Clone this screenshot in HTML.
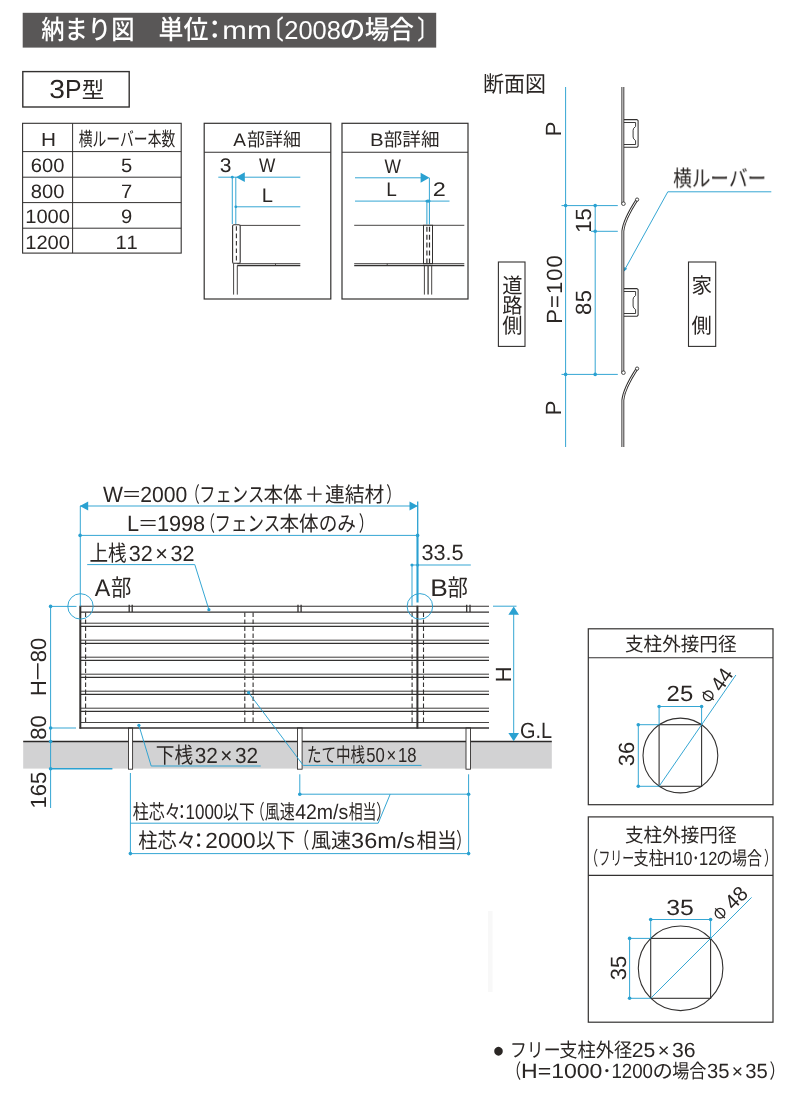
<!DOCTYPE html>
<html lang="ja"><head><meta charset="utf-8"><title>納まり図</title>
<style>
html,body{margin:0;padding:0;background:#fff}
body{width:793px;height:1101px;overflow:hidden}
svg{display:block;will-change:transform;transform:translateZ(0)}
text{font-family:"Liberation Sans","Noto Sans CJK JP",sans-serif;font-kerning:none;white-space:pre;fill:inherit;text-rendering:geometricPrecision}
</style></head><body>
<svg width="793" height="1101" viewBox="0 0 793 1101" fill="#2a2624">
<rect x="22.7" y="12.8" width="413.5" height="34.8" fill="#595757"/>
<g transform="translate(41.8 39.3)" fill="#fff" aria-label="納まり図"><text transform="translate(-0.49 0) scale(0.8785 1)" font-size="26.5" font-weight="500">納まり図</text></g>
<g transform="translate(159.8 39.3)" fill="#fff" aria-label="単位"><text transform="translate(-1.27 0) scale(0.9423 1)" font-size="26.5" font-weight="500">単位</text></g>
<g transform="translate(224.3 39.3)" fill="#fff" aria-label="mm"><text transform="translate(-1.96 0) scale(1.142 1)" font-size="25.8">mm</text></g>
<g transform="translate(277.4 39.3)" fill="#fff" aria-label="〔"><text transform="translate(-14.99 0) scale(0.8034 1)" font-size="26.5" font-weight="500">〔</text></g>
<g transform="translate(285.5 39.3)" fill="#fff" aria-label="2008"><text transform="translate(-1.28 0) scale(0.988 1)" font-size="25.8">2008</text></g>
<g transform="translate(341.8 39.3)" fill="#fff" aria-label="の"><text transform="translate(-1.96 0) scale(0.9626 1)" font-size="26.5" font-weight="500">の</text></g>
<g transform="translate(365.4 39.3)" fill="#fff" aria-label="場合"><text transform="translate(-0.71 0) scale(0.9302 1)" font-size="26.5" font-weight="500">場合</text></g>
<g transform="translate(417.9 39.3)" fill="#fff" aria-label="〕"><text transform="translate(-0.68 0) scale(0.7747 1)" font-size="26.5" font-weight="500">〕</text></g>
<g transform="translate(214.8 39.3)" fill="#fff" aria-label="："><text transform="translate(-13.25 0)" font-size="26.5" font-weight="500">：</text></g>
<rect x="22.8" y="71.6" width="106.4" height="35.4" fill="none" stroke="#333130" stroke-width="1.4"/>
<g transform="translate(50.4 98.1)" aria-label="3"><text transform="translate(-1.08 0) scale(1.087 1)" font-size="26">3</text></g>
<g transform="translate(67 98.1)" aria-label="P"><text transform="translate(-2.03 0) scale(0.954 1)" font-size="26">P</text></g>
<g transform="translate(82.9 98)" aria-label="型"><text transform="translate(-1.05 0) scale(0.9925 1)" font-size="22.6">型</text></g>
<rect x="22.6" y="123.3" width="158.6" height="129.8" fill="none" stroke="#333130" stroke-width="1.1"/>
<line x1="72.6" y1="123.3" x2="72.6" y2="253.1" stroke="#333130" stroke-width="1"/>
<line x1="22.6" y1="151.6" x2="181.2" y2="151.6" stroke="#333130" stroke-width="1"/>
<line x1="22.6" y1="177.2" x2="181.2" y2="177.2" stroke="#333130" stroke-width="1"/>
<line x1="22.6" y1="202.6" x2="181.2" y2="202.6" stroke="#333130" stroke-width="1"/>
<line x1="22.6" y1="228.2" x2="181.2" y2="228.2" stroke="#333130" stroke-width="1"/>
<g transform="translate(42.6 146)" aria-label="H"><text transform="translate(-1.7 0) scale(1.105 1)" font-size="18.8">H</text></g>
<g transform="translate(79 146.4)" aria-label="横ルーバー本数"><text transform="translate(-0.37 0) scale(0.7082 1)" font-size="19.5">横ルーバー本数</text></g>
<g transform="translate(47.6 172.2)" aria-label="600"><text transform="translate(-16.83 0) scale(1.040 1)" font-size="19.4">600</text></g>
<g transform="translate(126.6 172.2)" aria-label="5"><text transform="translate(-5.61 0) scale(1.040 1)" font-size="19.4">5</text></g>
<g transform="translate(47.6 197.7)" aria-label="800"><text transform="translate(-16.83 0) scale(1.040 1)" font-size="19.4">800</text></g>
<g transform="translate(126.6 197.7)" aria-label="7"><text transform="translate(-5.61 0) scale(1.040 1)" font-size="19.4">7</text></g>
<g transform="translate(47.6 223.2)" aria-label="1000"><text transform="translate(-22.44 0) scale(1.040 1)" font-size="19.4">1000</text></g>
<g transform="translate(126.6 223.2)" aria-label="9"><text transform="translate(-5.61 0) scale(1.040 1)" font-size="19.4">9</text></g>
<g transform="translate(47.6 248.5)" aria-label="1200"><text transform="translate(-22.44 0) scale(1.040 1)" font-size="19.4">1200</text></g>
<g transform="translate(126.6 248.5)" aria-label="11"><text transform="translate(-11.22 0) scale(1.040 1)" font-size="19.4">11</text></g>
<rect x="204.2" y="123.3" width="126.6" height="175.7" fill="none" stroke="#333130" stroke-width="1.2"/>
<line x1="204.2" y1="152.3" x2="330.8" y2="152.3" stroke="#333130" stroke-width="1.1"/>
<g transform="translate(233.4 145.5)" aria-label="A"><text transform="translate(-0.04 0) scale(1.056 1)" font-size="18">A</text></g>
<g transform="translate(247.7 145.5)" aria-label="部詳細"><text transform="translate(-0.75 0) scale(0.9661 1)" font-size="18.6">部詳細</text></g>
<line x1="218.3" y1="177.2" x2="300.3" y2="177.2" stroke="#2aa1d1" stroke-width="0.95"/>
<line x1="235.8" y1="206.8" x2="300.3" y2="206.8" stroke="#2aa1d1" stroke-width="0.95"/>
<line x1="232.3" y1="177.2" x2="232.3" y2="224" stroke="#2aa1d1" stroke-width="0.95"/>
<line x1="235.8" y1="177.2" x2="235.8" y2="224" stroke="#2aa1d1" stroke-width="0.95"/>
<circle cx="232.3" cy="177.2" r="1.4" fill="#2aa1d1"/>
<circle cx="235.8" cy="206.8" r="1.4" fill="#2aa1d1"/>
<polygon points="236,177.2 244.8,172.3 244.8,182.1" fill="#2aa1d1"/>
<g transform="translate(220.5 172)" aria-label="3"><text transform="translate(-0.8 0) scale(1.065 1)" font-size="19.8">3</text></g>
<g transform="translate(259.2 172)" aria-label="W"><text transform="translate(-0.08 0) scale(0.874 1)" font-size="19.8">W</text></g>
<g transform="translate(263.3 202)" aria-label="L"><text transform="translate(-1.66 0) scale(1.019 1)" font-size="19.8">L</text></g>
<line x1="240" y1="225.4" x2="300.3" y2="225.4" stroke="#333130" stroke-width="0.9"/>
<rect x="232.6" y="224.7" width="7.6" height="38.6" fill="#fff" stroke="#333130" stroke-width="1.1" rx="1.4"/>
<line x1="236.4" y1="226.2" x2="236.4" y2="262.5" stroke="#333130" stroke-width="1.1" stroke-dasharray="4.6 2.8"/>
<line x1="237.2" y1="263.7" x2="300.3" y2="263.7" stroke="#333130" stroke-width="1.1"/>
<line x1="237.2" y1="265.6" x2="300.3" y2="265.6" stroke="#333130" stroke-width="1.1"/>
<line x1="275.5" y1="263.7" x2="275.5" y2="265.7" stroke="#333130" stroke-width="0.8"/>
<line x1="233.6" y1="263.5" x2="233.6" y2="294.6" stroke="#333130" stroke-width="0.9"/>
<line x1="237.3" y1="265.7" x2="237.3" y2="294.6" stroke="#333130" stroke-width="0.9"/>
<rect x="342" y="123.3" width="126" height="175.7" fill="none" stroke="#333130" stroke-width="1.2"/>
<line x1="342" y1="152.3" x2="468" y2="152.3" stroke="#333130" stroke-width="1.1"/>
<g transform="translate(371.6 145.5)" aria-label="B"><text transform="translate(-1.68 0) scale(1.138 1)" font-size="18">B</text></g>
<g transform="translate(384.6 145.5)" aria-label="部詳細"><text transform="translate(-0.78 0) scale(0.9978 1)" font-size="18.6">部詳細</text></g>
<line x1="355" y1="177.8" x2="421" y2="177.8" stroke="#2aa1d1" stroke-width="0.95"/>
<line x1="355" y1="201.1" x2="449.5" y2="201.1" stroke="#2aa1d1" stroke-width="0.95"/>
<line x1="429.4" y1="177.8" x2="429.4" y2="201.1" stroke="#2aa1d1" stroke-width="0.95"/>
<line x1="426.9" y1="201.1" x2="426.9" y2="224.5" stroke="#2aa1d1" stroke-width="1"/>
<line x1="429.4" y1="201.1" x2="429.4" y2="224.5" stroke="#2aa1d1" stroke-width="1"/>
<ellipse cx="428" cy="201.1" rx="2.7" ry="1.7" fill="#2aa1d1"/>
<polygon points="429.5,177.8 420.6,182.8 420.6,172.8" fill="#2aa1d1"/>
<g transform="translate(384.7 173)" aria-label="W"><text transform="translate(-0.08 0) scale(0.879 1)" font-size="19.8">W</text></g>
<g transform="translate(387.8 196)" aria-label="L"><text transform="translate(-1.56 0) scale(0.962 1)" font-size="19.8">L</text></g>
<g transform="translate(434 195.8)" aria-label="2"><text transform="translate(-1.18 0) scale(1.186 1)" font-size="19.8">2</text></g>
<line x1="354.2" y1="225.3" x2="464.3" y2="225.3" stroke="#333130" stroke-width="0.9"/>
<rect x="423.5" y="225.3" width="9" height="38.4" fill="#fff" stroke="#333130" stroke-width="1"/>
<line x1="426.9" y1="226.8" x2="426.9" y2="263" stroke="#333130" stroke-width="1.2" stroke-dasharray="5 2.9"/>
<line x1="429.5" y1="226.8" x2="429.5" y2="263" stroke="#333130" stroke-width="1.2" stroke-dasharray="5 2.9"/>
<line x1="354.2" y1="263.7" x2="464.3" y2="263.7" stroke="#333130" stroke-width="1.1"/>
<line x1="354.2" y1="265.6" x2="464.3" y2="265.6" stroke="#333130" stroke-width="1.1"/>
<line x1="387.2" y1="263.7" x2="387.2" y2="265.7" stroke="#333130" stroke-width="0.8"/>
<line x1="424.4" y1="265.6" x2="424.4" y2="294.6" stroke="#333130" stroke-width="0.9"/>
<line x1="428.1" y1="265.6" x2="428.1" y2="294.6" stroke="#4a4847" stroke-width="1.4"/>
<line x1="431.7" y1="265.6" x2="431.7" y2="294.6" stroke="#333130" stroke-width="0.9"/>
<g transform="translate(484.7 91.6)" aria-label="断面図"><text transform="translate(-1.7 0) scale(0.9375 1)" font-size="22.4">断面図</text></g>
<line x1="565.6" y1="87" x2="565.6" y2="447" stroke="#2aa1d1" stroke-width="0.95"/>
<line x1="561.5" y1="205.6" x2="617.8" y2="205.6" stroke="#2aa1d1" stroke-width="0.95"/>
<line x1="591" y1="231.3" x2="617.8" y2="231.3" stroke="#2aa1d1" stroke-width="0.95"/>
<line x1="561.5" y1="374.4" x2="617.8" y2="374.4" stroke="#2aa1d1" stroke-width="0.95"/>
<line x1="595.2" y1="205.6" x2="595.2" y2="374.4" stroke="#2aa1d1" stroke-width="0.95"/>
<circle cx="565.6" cy="205.6" r="1.8" fill="#2aa1d1"/>
<circle cx="595.2" cy="205.6" r="1.8" fill="#2aa1d1"/>
<circle cx="595.2" cy="231.3" r="1.8" fill="#2aa1d1"/>
<circle cx="565.6" cy="374.4" r="1.8" fill="#2aa1d1"/>
<circle cx="595.2" cy="374.4" r="1.8" fill="#2aa1d1"/>
<path d="M771.3,191.8 H667.8 L624,271" fill="none" stroke="#2aa1d1" stroke-width="0.95"/>
<polygon points="623.6,271.8 624.39,267.09 627.19,268.64" fill="#2aa1d1"/>
<g transform="translate(673.6 186.3)" aria-label="横ルーバー"><text transform="translate(-0.5 0) scale(0.8313 1)" font-size="22.4">横ルーバー</text></g>
<g transform="translate(561 129) rotate(-90)" aria-label="P"><text x="-7.34" y="0" font-size="22">P</text></g>
<g transform="translate(590.6 220.5) rotate(-90)" aria-label="15"><text x="-12.24" y="0" font-size="22">15</text></g>
<g transform="translate(561.6 289.5) rotate(-90)" aria-label="P=100"><text x="-34.31" y="0" font-size="22" letter-spacing="1.1">P=100</text></g>
<g transform="translate(591 302.6) rotate(-90)" aria-label="85"><text x="-12.49" y="0" font-size="22" letter-spacing="0.5">85</text></g>
<g transform="translate(561 407.9) rotate(-90)" aria-label="P"><text x="-7.34" y="0" font-size="22">P</text></g>
<clipPath id="secclip"><rect x="600" y="87" width="60" height="360"/></clipPath>
<g clip-path="url(#secclip)">
<path d="M637.0,30.7 Q624.05,50.5 622.85,62 V203.5" fill="none" stroke="#333130" stroke-width="2.9" stroke-linecap="round"/>
<path d="M637.0,30.7 Q624.05,50.5 622.85,62 V203.5" fill="none" stroke="#fff" stroke-width="0.95" stroke-linecap="round"/>
<circle cx="637.1" cy="30.6" r="1.65" fill="#fff" stroke="#333130" stroke-width="0.85"/>
<circle cx="623.45" cy="203.7" r="1.8" fill="#fff" stroke="#333130" stroke-width="0.85"/>
<path d="M623.95,119.6 H637.0 L638.1,120.7 V146.2 L637.0,147.3 H623.95" fill="none" stroke="#333130" stroke-width="1.05" stroke-linejoin="round"/>
<path d="M623.95,122.5 H635.6 V126.5 Q633.0,128.2 633.1,130.2 V137 Q633.0,139 635.6,140.6 V144.5 H623.95" fill="none" stroke="#333130" stroke-width="0.95" stroke-linejoin="round"/>
<path d="M637.0,199.7 Q624.05,219.5 622.85,231 V372.5" fill="none" stroke="#333130" stroke-width="2.9" stroke-linecap="round"/>
<path d="M637.0,199.7 Q624.05,219.5 622.85,231 V372.5" fill="none" stroke="#fff" stroke-width="0.95" stroke-linecap="round"/>
<circle cx="637.1" cy="199.6" r="1.65" fill="#fff" stroke="#333130" stroke-width="0.85"/>
<circle cx="623.45" cy="372.7" r="1.8" fill="#fff" stroke="#333130" stroke-width="0.85"/>
<path d="M623.95,288.6 H637.0 L638.1,289.7 V315.2 L637.0,316.3 H623.95" fill="none" stroke="#333130" stroke-width="1.05" stroke-linejoin="round"/>
<path d="M623.95,291.5 H635.6 V295.5 Q633.0,297.2 633.1,299.2 V306 Q633.0,308 635.6,309.6 V313.5 H623.95" fill="none" stroke="#333130" stroke-width="0.95" stroke-linejoin="round"/>
<path d="M637.0,368.7 Q624.05,388.5 622.85,400 V541.5" fill="none" stroke="#333130" stroke-width="2.9" stroke-linecap="round"/>
<path d="M637.0,368.7 Q624.05,388.5 622.85,400 V541.5" fill="none" stroke="#fff" stroke-width="0.95" stroke-linecap="round"/>
<circle cx="637.1" cy="368.6" r="1.65" fill="#fff" stroke="#333130" stroke-width="0.85"/>
<circle cx="623.45" cy="541.7" r="1.8" fill="#fff" stroke="#333130" stroke-width="0.85"/>
<path d="M623.95,457.6 H637.0 L638.1,458.7 V484.2 L637.0,485.3 H623.95" fill="none" stroke="#333130" stroke-width="1.05" stroke-linejoin="round"/>
<path d="M623.95,460.5 H635.6 V464.5 Q633.0,466.2 633.1,468.2 V475 Q633.0,477 635.6,478.6 V482.5 H623.95" fill="none" stroke="#333130" stroke-width="0.95" stroke-linejoin="round"/>
</g>
<rect x="498.4" y="262" width="26.6" height="84.4" fill="none" stroke="#333130" stroke-width="1.1"/>
<rect x="688.5" y="262" width="27.2" height="84.4" fill="none" stroke="#333130" stroke-width="1.1"/>
<g transform="translate(512.4 292.7)" aria-label="道"><text transform="translate(-10.14 0) scale(0.9699 1)" font-size="20.9">道</text></g>
<g transform="translate(512.4 312.5)" aria-label="路"><text transform="translate(-10.14 0) scale(0.9699 1)" font-size="20.9">路</text></g>
<g transform="translate(512.4 332.5)" aria-label="側"><text transform="translate(-10.14 0) scale(0.9699 1)" font-size="20.9">側</text></g>
<g transform="translate(701.8 293)" aria-label="家"><text transform="translate(-10.28 0) scale(0.9698 1)" font-size="21.2">家</text></g>
<g transform="translate(701.6 332.5)" aria-label="側"><text transform="translate(-10.14 0) scale(0.9699 1)" font-size="20.9">側</text></g>
<rect x="23.2" y="741.5" width="528.6" height="27.1" fill="#d2d2d3"/>
<line x1="23.2" y1="741.5" x2="551.8" y2="741.5" stroke="#2b2928" stroke-width="1.4"/>
<rect x="128.5" y="727.9" width="4.1" height="41.3" fill="#fff" stroke="#333130" stroke-width="0.9"/>
<rect x="297.5" y="727.9" width="4.6" height="41.3" fill="#fff" stroke="#333130" stroke-width="0.9"/>
<rect x="466" y="727.9" width="4.5" height="41.3" fill="#fff" stroke="#333130" stroke-width="0.9"/>
<line x1="80.3" y1="606.2" x2="489" y2="606.2" stroke="#333130" stroke-width="1.1"/>
<line x1="80.3" y1="612.1" x2="489" y2="612.1" stroke="#333130" stroke-width="1.1"/>
<line x1="80.3" y1="623.2" x2="489" y2="623.2" stroke="#333130" stroke-width="0.95"/>
<line x1="80.3" y1="626.3" x2="489" y2="626.3" stroke="#333130" stroke-width="1.3"/>
<line x1="80.3" y1="640.2" x2="489" y2="640.2" stroke="#333130" stroke-width="0.95"/>
<line x1="80.3" y1="643.3" x2="489" y2="643.3" stroke="#333130" stroke-width="1.3"/>
<line x1="80.3" y1="657.2" x2="489" y2="657.2" stroke="#333130" stroke-width="0.95"/>
<line x1="80.3" y1="660.3" x2="489" y2="660.3" stroke="#333130" stroke-width="1.3"/>
<line x1="80.3" y1="674.2" x2="489" y2="674.2" stroke="#333130" stroke-width="0.95"/>
<line x1="80.3" y1="677.3" x2="489" y2="677.3" stroke="#333130" stroke-width="1.3"/>
<line x1="80.3" y1="691.2" x2="489" y2="691.2" stroke="#333130" stroke-width="0.95"/>
<line x1="80.3" y1="694.3" x2="489" y2="694.3" stroke="#333130" stroke-width="1.3"/>
<line x1="80.3" y1="708.2" x2="489" y2="708.2" stroke="#333130" stroke-width="0.95"/>
<line x1="80.3" y1="711.3" x2="489" y2="711.3" stroke="#333130" stroke-width="1.3"/>
<line x1="80.3" y1="722.5" x2="489" y2="722.5" stroke="#333130" stroke-width="0.9"/>
<line x1="79.4" y1="727.9" x2="489" y2="727.9" stroke="#333130" stroke-width="1.5"/>
<line x1="80.3" y1="605.7" x2="80.3" y2="728.6" stroke="#333130" stroke-width="2"/>
<line x1="417.4" y1="605.7" x2="417.4" y2="728.6" stroke="#333130" stroke-width="2"/>
<line x1="85.6" y1="612.5" x2="85.6" y2="722.5" stroke="#333130" stroke-width="1.1" stroke-dasharray="4.4 2.6"/>
<line x1="244.8" y1="612.5" x2="244.8" y2="722.5" stroke="#333130" stroke-width="1.1" stroke-dasharray="4.4 2.6"/>
<line x1="253.1" y1="612.5" x2="253.1" y2="722.5" stroke="#333130" stroke-width="1.1" stroke-dasharray="4.4 2.6"/>
<line x1="412.1" y1="612.5" x2="412.1" y2="722.5" stroke="#333130" stroke-width="1.1" stroke-dasharray="4.4 2.6"/>
<line x1="423.5" y1="612.5" x2="423.5" y2="722.5" stroke="#333130" stroke-width="1.1" stroke-dasharray="4.4 2.6"/>
<line x1="129.2" y1="604.8" x2="129.2" y2="612.1" stroke="#333130" stroke-width="1.3"/>
<line x1="132.2" y1="604.8" x2="132.2" y2="612.1" stroke="#333130" stroke-width="1.3"/>
<line x1="298" y1="604.8" x2="298" y2="612.1" stroke="#333130" stroke-width="1.3"/>
<line x1="301.1" y1="604.8" x2="301.1" y2="612.1" stroke="#333130" stroke-width="1.3"/>
<line x1="466.7" y1="604.8" x2="466.7" y2="612.1" stroke="#333130" stroke-width="1.3"/>
<line x1="470" y1="604.8" x2="470" y2="612.1" stroke="#333130" stroke-width="1.3"/>
<line x1="80.1" y1="506" x2="417.6" y2="506" stroke="#2aa1d1" stroke-width="0.95"/>
<line x1="80.1" y1="535.4" x2="417.6" y2="535.4" stroke="#2aa1d1" stroke-width="0.95"/>
<polygon points="79.9,506 88.2,501.4 88.2,510.6" fill="#2aa1d1"/>
<polygon points="417.8,506 409.5,510.6 409.5,501.4" fill="#2aa1d1"/>
<line x1="80.3" y1="506" x2="80.3" y2="606.4" stroke="#2aa1d1" stroke-width="0.95"/>
<line x1="417.7" y1="501.5" x2="417.7" y2="535.4" stroke="#2aa1d1" stroke-width="1.3"/>
<line x1="417.5" y1="535.4" x2="417.5" y2="602.5" stroke="#2aa1d1" stroke-width="2.1"/>
<circle cx="80.1" cy="535.4" r="1.8" fill="#2aa1d1"/>
<circle cx="417.6" cy="535.4" r="1.8" fill="#2aa1d1"/>
<line x1="410.6" y1="565" x2="470.8" y2="565" stroke="#2aa1d1" stroke-width="0.95"/>
<line x1="412" y1="565" x2="412" y2="606" stroke="#2aa1d1" stroke-width="0.95"/>
<circle cx="412" cy="565" r="1.5" fill="#2aa1d1"/>
<circle cx="417.6" cy="565" r="1.5" fill="#2aa1d1"/>
<circle cx="80.5" cy="606.4" r="12.7" fill="none" stroke="#2aa1d1" stroke-width="0.95"/>
<circle cx="419.9" cy="606.4" r="12.8" fill="none" stroke="#2aa1d1" stroke-width="0.95"/>
<g transform="translate(103 501.5)" aria-label="W＝2000"><text transform="translate(-0.09 0) scale(0.961 1)" font-size="22">W</text><text transform="translate(18.44 0) scale(0.961 1)" font-size="21">＝</text><text transform="translate(37.21 0) scale(0.961 1)" font-size="22">2000</text></g>
<g transform="translate(195.3 501.5)" aria-label="（"><text transform="translate(-9.66 0) scale(0.6619 1)" font-size="21">（</text></g>
<g transform="translate(201.6 501.5)" aria-label="フェンス"><text transform="translate(-2.36 0) scale(0.7752 1)" font-size="21">フェンス</text></g>
<g transform="translate(264.1 501.5)" aria-label="本体"><text transform="translate(-0.61 0) scale(0.9319 1)" font-size="21">本体</text></g>
<g transform="translate(307.1 501.5)" aria-label="＋"><text transform="translate(-2.72 0) scale(0.9443 1)" font-size="21">＋</text></g>
<g transform="translate(325.7 501.5)" aria-label="連結材"><text transform="translate(-0.71 0) scale(0.94 1)" font-size="21">連結材</text></g>
<g transform="translate(386.9 501.5)" aria-label="）"><text transform="translate(-0.67 0) scale(0.6986 1)" font-size="21">）</text></g>
<g transform="translate(128.8 530.5)" aria-label="L＝1998"><text transform="translate(-1.78 0) scale(0.986 1)" font-size="22">L</text><text transform="translate(8.83 0) scale(0.9857 1)" font-size="21">＝</text><text transform="translate(28.09 0) scale(0.986 1)" font-size="22">1998</text></g>
<g transform="translate(210.6 530.5)" aria-label="（"><text transform="translate(-9.66 0) scale(0.6619 1)" font-size="21">（</text></g>
<g transform="translate(216.9 530.5)" aria-label="フェンス"><text transform="translate(-2.38 0) scale(0.7829 1)" font-size="21">フェンス</text></g>
<g transform="translate(280 530.5)" aria-label="本体"><text transform="translate(-0.61 0) scale(0.9319 1)" font-size="21">本体</text></g>
<g transform="translate(320.3 530.5)" aria-label="のみ"><text transform="translate(-1.64 0) scale(0.8886 1)" font-size="21">のみ</text></g>
<g transform="translate(359.3 530.5)" aria-label="）"><text transform="translate(-0.67 0) scale(0.6986 1)" font-size="21">）</text></g>
<g transform="translate(90.4 560.7)" aria-label="上桟"><text transform="translate(-0.95 0) scale(0.8441 1)" font-size="22">上桟</text></g>
<g transform="translate(129.6 560.9)" aria-label="32×32"><text transform="translate(-0.82 0) scale(0.981 1)" font-size="22">32</text><text transform="translate(25.7 0) scale(0.9809 1)" font-size="22">×</text><text transform="translate(40.88 0) scale(0.981 1)" font-size="22">32</text></g>
<path d="M87.2,564.6 H194.8 L208.9,609.6" fill="none" stroke="#2aa1d1" stroke-width="0.95"/>
<circle cx="208.9" cy="609.7" r="1.6" fill="#2aa1d1"/>
<g transform="translate(94.8 595.6)" aria-label="A"><text transform="translate(-0.05 0) scale(0.968 1)" font-size="24">A</text></g>
<g transform="translate(111.8 595.5)" aria-label="部"><text transform="translate(-0.85 0) scale(0.8651 1)" font-size="23.5">部</text></g>
<g transform="translate(432.3 595.6)" aria-label="B"><text transform="translate(-2.16 0) scale(1.096 1)" font-size="24">B</text></g>
<g transform="translate(448.4 595.5)" aria-label="部"><text transform="translate(-0.85 0) scale(0.8651 1)" font-size="23.5">部</text></g>
<g transform="translate(422.3 560)" aria-label="33.5"><text transform="translate(-0.83 0) scale(0.986 1)" font-size="22">33.5</text></g>
<line x1="50.6" y1="606.4" x2="50.6" y2="808" stroke="#2aa1d1" stroke-width="0.95"/>
<line x1="50.6" y1="606.4" x2="76.5" y2="606.4" stroke="#2aa1d1" stroke-width="0.95"/>
<line x1="50.6" y1="728" x2="76" y2="728" stroke="#2aa1d1" stroke-width="0.95"/>
<line x1="50.6" y1="768.7" x2="112.4" y2="768.7" stroke="#2aa1d1" stroke-width="1.4"/>
<circle cx="50.6" cy="606.4" r="1.8" fill="#2aa1d1"/>
<circle cx="50.6" cy="728" r="1.8" fill="#2aa1d1"/>
<circle cx="50.6" cy="741.5" r="1.8" fill="#2aa1d1"/>
<circle cx="50.6" cy="768.7" r="1.8" fill="#2aa1d1"/>
<g transform="translate(45.6 666.9) rotate(-90)" aria-label="H－80"><text x="-29.2" y="0" font-size="22">H</text><text x="-15.29" y="0.6" font-size="22">－</text><text x="4.73" y="0" font-size="22">80</text></g>
<g transform="translate(45.5 727.4) rotate(-90)" aria-label="80"><text x="-12.24" y="0" font-size="22">80</text></g>
<g transform="translate(45.5 790.2) rotate(-90)" aria-label="165"><text x="-18.35" y="0" font-size="22">165</text></g>
<line x1="493" y1="606.2" x2="516.5" y2="606.2" stroke="#2aa1d1" stroke-width="0.95"/>
<line x1="513.7" y1="610" x2="513.7" y2="738" stroke="#2aa1d1" stroke-width="0.95"/>
<polygon points="513.7,606.4 519,614.7 508.4,614.7" fill="#2aa1d1"/>
<polygon points="513.7,741.3 508.4,733 519,733" fill="#2aa1d1"/>
<g transform="translate(510.7 674.4) rotate(-90)" aria-label="H"><text x="-7.94" y="0" font-size="22">H</text></g>
<g transform="translate(521 737.6)" aria-label="G.L"><text transform="translate(-1 0) scale(0.904 1)" font-size="22">G.L</text></g>
<path d="M138.9,725.3 L151.2,766 H260.7" fill="none" stroke="#2aa1d1" stroke-width="0.95"/>
<circle cx="138.9" cy="725.3" r="1.6" fill="#2aa1d1"/>
<g transform="translate(156.8 762.9)" aria-label="下桟"><text transform="translate(-1.03 0) scale(0.8482 1)" font-size="22">下桟</text></g>
<g transform="translate(195.5 763)" aria-label="32×32"><text transform="translate(-0.79 0) scale(0.946 1)" font-size="22">32</text><text transform="translate(24.8 0) scale(0.9455 1)" font-size="22">×</text><text transform="translate(39.41 0) scale(0.946 1)" font-size="22">32</text></g>
<path d="M248.6,692.7 L303.3,765.4 H421.5" fill="none" stroke="#2aa1d1" stroke-width="0.95"/>
<circle cx="248.6" cy="692.7" r="1.6" fill="#2aa1d1"/>
<g transform="translate(308.4 761.7)" aria-label="たて中桟"><text transform="translate(-1.47 0) scale(0.7265 1)" font-size="20">たて中桟</text></g>
<g transform="translate(366.8 761.9)" aria-label="50×18"><text transform="translate(-0.67 0) scale(0.813 1)" font-size="20.5">50</text><text transform="translate(19.67 0) scale(0.8127 1)" font-size="20.5">×</text><text transform="translate(31.19 0) scale(0.813 1)" font-size="20.5">18</text></g>
<line x1="130.4" y1="773" x2="130.4" y2="853.6" stroke="#2aa1d1" stroke-width="0.95"/>
<line x1="299.8" y1="774.3" x2="299.8" y2="794.2" stroke="#2aa1d1" stroke-width="0.95"/>
<line x1="468.6" y1="774.3" x2="468.6" y2="853.6" stroke="#2aa1d1" stroke-width="0.95"/>
<line x1="299.8" y1="794.2" x2="468.6" y2="794.2" stroke="#2aa1d1" stroke-width="0.95"/>
<line x1="130.4" y1="853.6" x2="468.6" y2="853.6" stroke="#2aa1d1" stroke-width="0.95"/>
<path d="M390.2,794.2 L378.2,823.2 H130.4" fill="none" stroke="#2aa1d1" stroke-width="0.95"/>
<circle cx="130.4" cy="853.6" r="1.8" fill="#2aa1d1"/>
<circle cx="299.8" cy="794.2" r="1.8" fill="#2aa1d1"/>
<circle cx="468.6" cy="794.2" r="1.8" fill="#2aa1d1"/>
<circle cx="468.6" cy="853.6" r="1.8" fill="#2aa1d1"/>
<g transform="translate(133.3 819.2)" aria-label="柱芯々"><text transform="translate(-0.46 0) scale(0.7926 1)" font-size="20.2">柱芯々</text></g>
<g transform="translate(186.8 819.2)" aria-label="1000"><text transform="translate(-1.29 0) scale(0.808 1)" font-size="21">1000</text></g>
<g transform="translate(223.6 819.2)" aria-label="以下"><text transform="translate(-0.57 0) scale(0.7881 1)" font-size="20.2">以下</text></g>
<g transform="translate(260.3 819.2)" aria-label="（"><text transform="translate(-9.39 0) scale(0.6688 1)" font-size="20.2">（</text></g>
<g transform="translate(265.2 819.2)" aria-label="風速"><text transform="translate(-0.53 0) scale(0.7465 1)" font-size="20.2">風速</text></g>
<g transform="translate(295.6 819.2)" aria-label="42m/s"><text transform="translate(-0.45 0) scale(0.929 1)" font-size="21">42m/s</text></g>
<g transform="translate(349.1 819.2)" aria-label="相当"><text transform="translate(-0.4 0) scale(0.6891 1)" font-size="20.2">相当</text></g>
<g transform="translate(377 819.2)" aria-label="）"><text transform="translate(-0.64 0) scale(0.6881 1)" font-size="20.2">）</text></g>
<g transform="translate(181.9 819.2)" aria-label="："><text transform="translate(-8.08 0) scale(0.8 1)" font-size="20.2">：</text></g>
<g transform="translate(138.9 847.7)" aria-label="柱芯々"><text transform="translate(-0.56 0) scale(0.908 1)" font-size="21.2">柱芯々</text></g>
<g transform="translate(206.5 847.7)" aria-label="2000"><text transform="translate(-1.14 0) scale(1.026 1)" font-size="22">2000</text></g>
<g transform="translate(256.8 847.7)" aria-label="以下"><text transform="translate(-0.71 0) scale(0.9259 1)" font-size="21.2">以下</text></g>
<g transform="translate(304.6 847.7)" aria-label="（"><text transform="translate(-10.73 0) scale(0.7283 1)" font-size="21.2">（</text></g>
<g transform="translate(311.6 847.7)" aria-label="風速"><text transform="translate(-0.71 0) scale(0.9509 1)" font-size="21.2">風速</text></g>
<g transform="translate(352 847.7)" aria-label="36m/s"><text transform="translate(-0.89 0) scale(1.067 1)" font-size="22">36m/s</text></g>
<g transform="translate(417 847.7)" aria-label="相当"><text transform="translate(-0.59 0) scale(0.9547 1)" font-size="21.2">相当</text></g>
<g transform="translate(456.8 847.7)" aria-label="）"><text transform="translate(-0.67 0) scale(0.692 1)" font-size="21.2">）</text></g>
<g transform="translate(198.5 847.7)" aria-label="："><text transform="translate(-10.6 0)" font-size="21.2">：</text></g>
<rect x="588.3" y="628.8" width="184.7" height="175.9" fill="none" stroke="#333130" stroke-width="1.2"/>
<line x1="588.3" y1="657.8" x2="773" y2="657.8" stroke="#333130" stroke-width="1.1"/>
<g transform="translate(625.7 651.2)" aria-label="支柱外接円径"><text transform="translate(-0.72 0) scale(0.9533 1)" font-size="19.5">支柱外接円径</text></g>
<circle cx="680.4" cy="755.5" r="37.4" fill="none" stroke="#333130" stroke-width="1.1"/>
<rect x="659.1" y="724.7" width="42.5" height="61.6" fill="none" stroke="#333130" stroke-width="1.1"/>
<line x1="659.1" y1="706.5" x2="701.6" y2="706.5" stroke="#2aa1d1" stroke-width="0.95"/>
<line x1="659.1" y1="706.5" x2="659.1" y2="724.7" stroke="#2aa1d1" stroke-width="0.95"/>
<line x1="701.6" y1="706.5" x2="701.6" y2="724.7" stroke="#2aa1d1" stroke-width="0.95"/>
<circle cx="659.1" cy="706.5" r="1.8" fill="#2aa1d1"/>
<circle cx="701.6" cy="706.5" r="1.8" fill="#2aa1d1"/>
<line x1="638.3" y1="724.7" x2="638.3" y2="786.3" stroke="#2aa1d1" stroke-width="0.95"/>
<line x1="638.3" y1="724.7" x2="659.1" y2="724.7" stroke="#2aa1d1" stroke-width="0.95"/>
<line x1="638.3" y1="786.3" x2="659.1" y2="786.3" stroke="#2aa1d1" stroke-width="0.95"/>
<circle cx="638.3" cy="724.7" r="1.8" fill="#2aa1d1"/>
<circle cx="638.3" cy="786.3" r="1.8" fill="#2aa1d1"/>
<line x1="659.1" y1="786.3" x2="735.9" y2="675" stroke="#2aa1d1" stroke-width="0.95"/>
<g transform="translate(667.8 701.3)" aria-label="25"><text transform="translate(-1.2 0) scale(1.087 1)" font-size="22">25</text></g>
<g transform="translate(634 754) rotate(-90)" aria-label="36"><text x="-12.24" y="0" font-size="22">36</text></g>
<circle cx="708.2" cy="695.82" r="4.8" fill="none" stroke="#2a2624" stroke-width="1.3"/>
<line x1="713.8" y1="699.68" x2="702.6" y2="691.96" stroke="#2a2624" stroke-width="1.3"/>
<g transform="translate(727.71 683.4) rotate(-55.4)" aria-label="44"><text transform="translate(-11.22 0) scale(0.970 1)" font-size="20.8">44</text></g>
<rect x="588.3" y="816.9" width="184.7" height="205.3" fill="none" stroke="#333130" stroke-width="1.2"/>
<line x1="588.3" y1="875.4" x2="773" y2="875.4" stroke="#333130" stroke-width="1.1"/>
<g transform="translate(625.7 842.4)" aria-label="支柱外接円径"><text transform="translate(-0.72 0) scale(0.9533 1)" font-size="19.5">支柱外接円径</text></g>
<g transform="translate(594.2 865.4)" aria-label="（"><text transform="translate(-9.12 0) scale(0.6911 1)" font-size="19">（</text></g>
<g transform="translate(600.2 865.4)" aria-label="フリー"><text transform="translate(-1.72 0) scale(0.6253 1)" font-size="19">フリー</text></g>
<g transform="translate(634.2 865.4)" aria-label="支柱"><text transform="translate(-0.59 0) scale(0.7916 1)" font-size="19">支柱</text></g>
<g transform="translate(664.4 865.4)" aria-label="H10"><text transform="translate(-1.32 0) scale(0.845 1)" font-size="19">H10</text></g>
<g transform="translate(700.3 865.4)" aria-label="12"><text transform="translate(-1.25 0) scale(0.865 1)" font-size="19">12</text></g>
<g transform="translate(717.8 865.4)" aria-label="の"><text transform="translate(-1.45 0) scale(0.8663 1)" font-size="19">の</text></g>
<g transform="translate(732.5 865.4)" aria-label="場合"><text transform="translate(-0.51 0) scale(0.7868 1)" font-size="19">場合</text></g>
<g transform="translate(764.7 865.4)" aria-label="）"><text transform="translate(-0.6 0) scale(0.6911 1)" font-size="19">）</text></g>
<g transform="translate(695.8 865.4)" aria-label="･"><text transform="translate(-3.8 0) scale(0.8 1)" font-size="19">･</text></g>
<circle cx="680.6" cy="968.3" r="42.3" fill="none" stroke="#333130" stroke-width="1.1"/>
<rect x="650.7" y="938.4" width="59.9" height="59.9" fill="none" stroke="#333130" stroke-width="1.1"/>
<line x1="650.7" y1="919.5" x2="710.6" y2="919.5" stroke="#2aa1d1" stroke-width="0.95"/>
<line x1="650.7" y1="919.5" x2="650.7" y2="938.4" stroke="#2aa1d1" stroke-width="0.95"/>
<line x1="710.6" y1="919.5" x2="710.6" y2="938.4" stroke="#2aa1d1" stroke-width="0.95"/>
<circle cx="650.7" cy="919.5" r="1.8" fill="#2aa1d1"/>
<circle cx="710.6" cy="919.5" r="1.8" fill="#2aa1d1"/>
<line x1="629.6" y1="938.4" x2="629.6" y2="998.3" stroke="#2aa1d1" stroke-width="0.95"/>
<line x1="629.6" y1="938.4" x2="650.7" y2="938.4" stroke="#2aa1d1" stroke-width="0.95"/>
<line x1="629.6" y1="998.3" x2="650.7" y2="998.3" stroke="#2aa1d1" stroke-width="0.95"/>
<circle cx="629.6" cy="938.4" r="1.8" fill="#2aa1d1"/>
<circle cx="629.6" cy="998.3" r="1.8" fill="#2aa1d1"/>
<line x1="650.7" y1="998.3" x2="751.6" y2="897.4" stroke="#2aa1d1" stroke-width="0.95"/>
<g transform="translate(667.2 914.7)" aria-label="35"><text transform="translate(-0.94 0) scale(1.127 1)" font-size="22">35</text></g>
<g transform="translate(626 968) rotate(-90)" aria-label="35"><text x="-12.24" y="0" font-size="22">35</text></g>
<circle cx="720.05" cy="913.2" r="4.8" fill="none" stroke="#2a2624" stroke-width="1.3"/>
<line x1="724.85" y1="918.01" x2="715.24" y2="908.39" stroke="#2a2624" stroke-width="1.3"/>
<g transform="translate(741.19 902.8) rotate(-45)" aria-label="48"><text transform="translate(-11.22 0) scale(0.970 1)" font-size="20.8">48</text></g>
<rect x="488" y="911" width="4.5" height="81" fill="#f8f8f8"/>
<g transform="translate(493.5 1056.5)" aria-label="●"><text transform="translate(-0.99 0.4) scale(0.9702 1)" font-size="20.5">●</text></g>
<g transform="translate(512.4 1056.5)" aria-label="フリー"><text transform="translate(-2.44 0) scale(0.8602 1)" font-size="19.6">フリー</text></g>
<g transform="translate(560 1056.5)" aria-label="支柱外径"><text transform="translate(-0.71 0) scale(0.9301 1)" font-size="19.6">支柱外径</text></g>
<g transform="translate(632.8 1056.5)" aria-label="25×36"><text transform="translate(-1.07 0) scale(1.031 1)" font-size="20.6">25</text><text transform="translate(24.93 0) scale(1.0306 1)" font-size="19.6">×</text><text transform="translate(39.12 0) scale(1.031 1)" font-size="20.6">36</text></g>
<g transform="translate(516.8 1077.5)" aria-label="（"><text transform="translate(-10.2 0) scale(0.7485 1)" font-size="19.6">（</text></g>
<g transform="translate(522.9 1077.5)" aria-label="H=1000"><text transform="translate(-1.89 0) scale(1.120 1)" font-size="20.6">H=1000</text></g>
<g transform="translate(612.8 1077.5)" aria-label="1200"><text transform="translate(-1.42 0) scale(0.907 1)" font-size="20.6">1200</text></g>
<g transform="translate(654.3 1077.5)" aria-label="の"><text transform="translate(-1.79 0) scale(1.0393 1)" font-size="19.6">の</text></g>
<g transform="translate(672.9 1077.5)" aria-label="場合"><text transform="translate(-0.58 0) scale(0.8704 1)" font-size="19.6">場合</text></g>
<g transform="translate(707.8 1077.5)" aria-label="35×35"><text transform="translate(-0.77 0) scale(0.981 1)" font-size="20.6">35</text><text transform="translate(23.98 0) scale(0.9811 1)" font-size="19.6">×</text><text transform="translate(37.47 0) scale(0.981 1)" font-size="20.6">35</text></g>
<g transform="translate(770.2 1077.5)" aria-label="）"><text transform="translate(-0.71 0) scale(0.7878 1)" font-size="19.6">）</text></g>
<g transform="translate(606.9 1077.5)" aria-label="･"><text transform="translate(-4.9 0)" font-size="19.6">･</text></g>
</svg>
</body></html>
